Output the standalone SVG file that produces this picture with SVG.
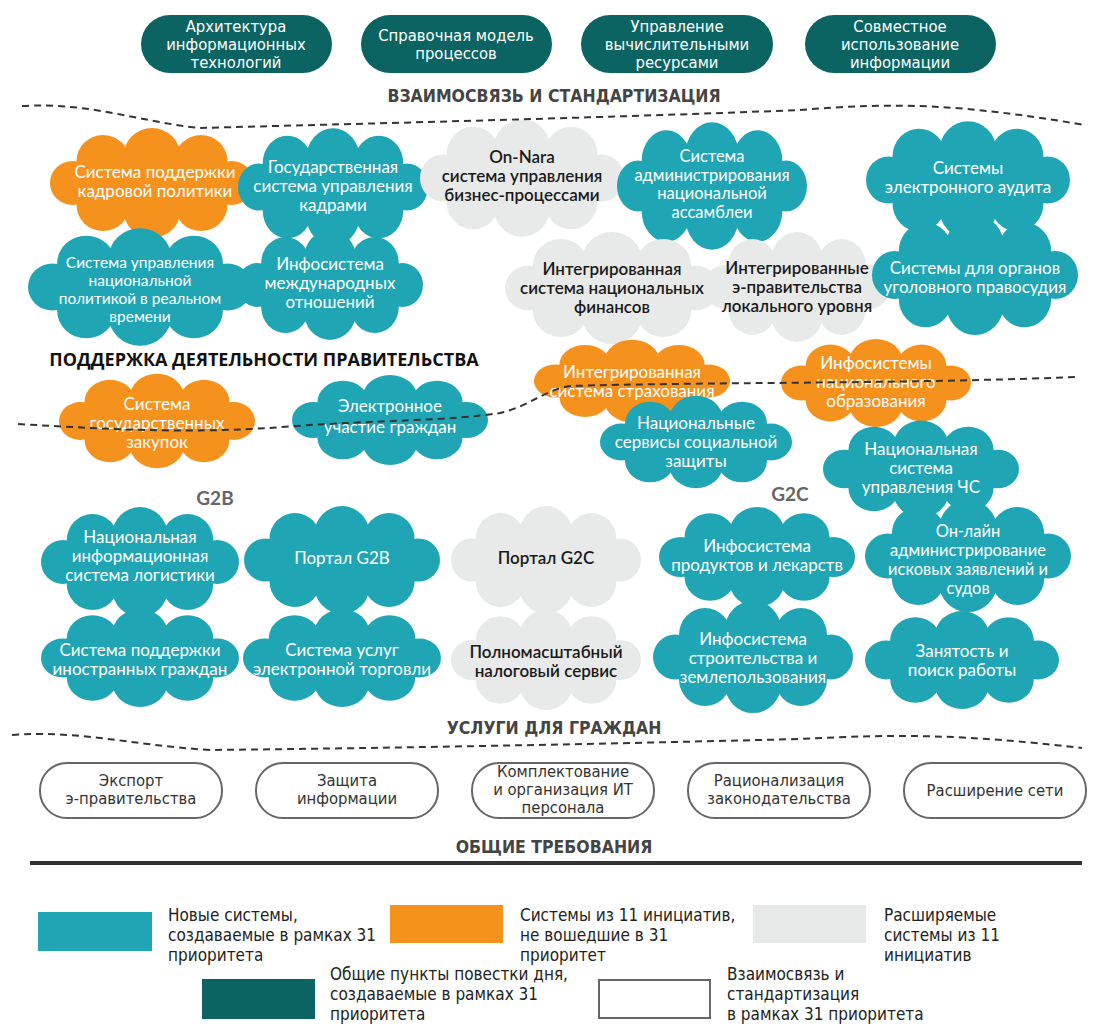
<svg xmlns="http://www.w3.org/2000/svg" xmlns:xlink="http://www.w3.org/1999/xlink" width="1109" height="1035" viewBox="0 0 1109 1035">
<style>
.bg{fill:#ffffff}
.teal{fill:#20a5b4}
.orange{fill:#f5921e}
.gray{fill:#e8e9e9}
.dark{fill:#0b6461}
.ct{font-family:Lato,"Open Sans","Noto Sans",sans-serif;font-size:17px;text-anchor:middle;fill:#ffffff}
.ct4{font-family:Lato,"Open Sans","Noto Sans",sans-serif;font-size:16.5px;text-anchor:middle;fill:#ffffff}
.ctp{font-family:Lato,"Open Sans","Noto Sans",sans-serif;font-size:15.5px;text-anchor:middle;fill:#ffffff}
.ctd{font-family:Lato,"Open Sans","Noto Sans",sans-serif;font-size:17px;text-anchor:middle;fill:#1a1a1a;font-weight:600}
.pt{font-family:"Liberation Sans Narrow","DejaVu Sans Condensed","Liberation Sans",sans-serif;font-size:16.5px;text-anchor:middle;fill:#ffffff}
.pw{font-family:"Liberation Sans Narrow","DejaVu Sans Condensed","Liberation Sans",sans-serif;font-size:16.5px;text-anchor:middle;fill:#333333}
.hd{font-family:"Liberation Sans Narrow","DejaVu Sans Condensed","Liberation Sans",sans-serif;font-size:17.5px;font-weight:bold;text-anchor:middle;fill:#444444}
.hb{font-family:"Open Sans","Noto Sans",sans-serif;font-size:18px;font-weight:bold;text-anchor:middle;fill:#111111}
.g2{font-family:Lato,"Open Sans",sans-serif;font-size:19px;font-weight:bold;text-anchor:middle;fill:#666666}
.lg{font-family:"Liberation Sans Narrow","DejaVu Sans Condensed","Liberation Sans",sans-serif;font-size:17px;fill:#222222}
.dash{fill:none;stroke:#333333;stroke-width:2;stroke-dasharray:7 5}
.wpill{fill:#ffffff;stroke:#666666;stroke-width:2}
</style>
<defs>
<g id="cloud">
<ellipse cx="0" cy="0" rx="82" ry="32"/>
<circle cx="0" cy="-27" r="28"/>
<circle cx="-48" cy="-22" r="26"/>
<circle cx="48" cy="-22" r="26"/>
<circle cx="0" cy="27" r="28"/>
<circle cx="-48" cy="22" r="26"/>
<circle cx="48" cy="22" r="26"/>
<circle cx="-78" cy="0" r="22"/>
<circle cx="78" cy="0" r="22"/>
</g>
</defs>
<rect class="bg" x="0" y="0" width="1109" height="1035"/>

<!-- Top pills -->
<g id="pill-arch"><rect class="dark" x="141" y="15" width="191" height="58" rx="29"/>
<text class="pt"><tspan x="236" y="32">Архитектура</tspan><tspan x="236" y="50">информационных</tspan><tspan x="236" y="68">технологий</tspan></text></g>
<g id="pill-ref"><rect class="dark" x="361" y="15" width="191" height="58" rx="29"/>
<text class="pt"><tspan x="456" y="41">Справочная модель</tspan><tspan x="456" y="59">процессов</tspan></text></g>
<g id="pill-comp"><rect class="dark" x="581" y="15" width="192" height="58" rx="29"/>
<text class="pt"><tspan x="677" y="32">Управление</tspan><tspan x="677" y="50">вычислительными</tspan><tspan x="677" y="68">ресурсами</tspan></text></g>
<g id="pill-share"><rect class="dark" x="805" y="15" width="191" height="58" rx="29"/>
<text class="pt"><tspan x="900" y="32">Совместное</tspan><tspan x="900" y="50">использование</tspan><tspan x="900" y="68">информации</tspan></text></g>

<text class="hd" x="554" y="102">ВЗАИМОСВЯЗЬ И СТАНДАРТИЗАЦИЯ</text>

<!-- Section 1 clouds -->
<g id="c-kadr-support"><use xlink:href="#cloud" class="orange" transform="translate(152,183) scale(1.02,1.0)"/>
<text class="ct"><tspan x="155" y="178">Система поддержки</tspan><tspan x="155" y="197">кадровой политики</tspan></text></g>
<g id="c-gos-kadr"><use xlink:href="#cloud" class="teal" transform="translate(333,187) scale(0.95,1.07)"/>
<text class="ct"><tspan x="333" y="173">Государственная</tspan><tspan x="333" y="192">система управления</tspan><tspan x="333" y="211">кадрами</tspan></text></g>
<g id="c-onnara"><use xlink:href="#cloud" class="gray" transform="translate(522,178) scale(1.02,1.07)"/>
<text class="ctd"><tspan x="522" y="163">On-Nara</tspan><tspan x="522" y="182">система управления</tspan><tspan x="522" y="201">бизнес-процессами</tspan></text></g>
<g id="c-assembly"><use xlink:href="#cloud" class="teal" transform="translate(712,186) scale(0.95,1.16)"/>
<text class="ct4"><tspan x="712" y="162">Система</tspan><tspan x="712" y="180.5">администрирования</tspan><tspan x="712" y="199">национальной</tspan><tspan x="712" y="217.5">ассамблеи</tspan></text></g>
<g id="c-audit"><use xlink:href="#cloud" class="teal" transform="translate(968,180) scale(1.02,1.07)"/>
<text class="ct"><tspan x="968" y="174">Системы</tspan><tspan x="968" y="193">электронного аудита</tspan></text></g>
<g id="c-policy"><use xlink:href="#cloud" class="teal" transform="translate(140,287) scale(1.12,1.07)"/>
<text class="ctp"><tspan x="140" y="268">Система управления</tspan><tspan x="140" y="286">национальной</tspan><tspan x="140" y="304">политикой в реальном</tspan><tspan x="140" y="322">времени</tspan></text></g>
<g id="c-intl"><use xlink:href="#cloud" class="teal" transform="translate(330,285) scale(0.93,1.0)"/>
<text class="ct"><tspan x="330" y="270">Инфосистема</tspan><tspan x="330" y="289">международных</tspan><tspan x="330" y="308">отношений</tspan></text></g>
<g id="c-finance"><use xlink:href="#cloud" class="gray" transform="translate(612,288) scale(1.07,1.02)"/>
<text class="ctd"><tspan x="612" y="275">Интегрированная</tspan><tspan x="612" y="294">система национальных</tspan><tspan x="612" y="313">финансов</tspan></text></g>
<g id="c-local"><use xlink:href="#cloud" class="gray" transform="translate(797,287) scale(0.93,1.0)"/>
<text class="ctd"><tspan x="797" y="274">Интегрированные</tspan><tspan x="797" y="293">э-правительства</tspan><tspan x="797" y="312">локального уровня</tspan></text></g>
<g id="c-justice"><use xlink:href="#cloud" class="teal" transform="translate(975,275) scale(1.03,1.09)"/>
<text class="ct"><tspan x="975" y="274">Системы для органов</tspan><tspan x="975" y="293">уголовного правосудия</tspan></text></g>

<text class="hb" x="264" y="366">ПОДДЕРЖКА ДЕЯТЕЛЬНОСТИ ПРАВИТЕЛЬСТВА</text>

<!-- Section 2 clouds -->
<g id="c-procure"><use xlink:href="#cloud" class="orange" transform="translate(157,421) scale(0.98,0.86)"/>
<text class="ct"><tspan x="157" y="410">Система</tspan><tspan x="157" y="429">государственных</tspan><tspan x="157" y="448">закупок</tspan></text></g>
<g id="c-eparticip"><use xlink:href="#cloud" class="teal" transform="translate(390,420) scale(0.98,0.82)"/>
<text class="ct"><tspan x="390" y="412">Электронное</tspan><tspan x="390" y="433">участие граждан</tspan></text></g>
<g id="c-insurance"><use xlink:href="#cloud" class="orange" transform="translate(632,381) scale(0.98,0.75)"/>
<text class="ct"><tspan x="632" y="378">Интегрированная</tspan><tspan x="632" y="397">система страхования</tspan></text></g>
<g id="c-education"><use xlink:href="#cloud" class="orange" transform="translate(876,383) scale(0.95,0.8)"/>
<text class="ct"><tspan x="876" y="369">Инфосистемы</tspan><tspan x="876" y="388">национального</tspan><tspan x="876" y="407">образования</tspan></text></g>
<g id="c-social"><use xlink:href="#cloud" class="teal" transform="translate(696,442) scale(0.96,0.84)"/>
<text class="ct"><tspan x="696" y="429">Национальные</tspan><tspan x="696" y="448">сервисы социальной</tspan><tspan x="696" y="467">защиты</tspan></text></g>
<g id="c-emergency"><use xlink:href="#cloud" class="teal" transform="translate(921,469) scale(0.98,0.88)"/>
<text class="ct"><tspan x="921" y="455">Национальная</tspan><tspan x="921" y="474">система</tspan><tspan x="921" y="493">управления ЧС</tspan></text></g>

<text class="g2" x="215" y="505">G2B</text>
<text class="g2" x="790" y="501">G2C</text>

<!-- Section 3 clouds -->
<g id="c-logistics"><use xlink:href="#cloud" class="teal" transform="translate(140,562) scale(0.99,1.0)"/>
<text class="ct"><tspan x="140" y="543">Национальная</tspan><tspan x="140" y="562">информационная</tspan><tspan x="140" y="581">система логистики</tspan></text></g>
<g id="c-g2b"><use xlink:href="#cloud" class="teal" transform="translate(342,560) scale(0.98,0.98)"/>
<text class="ct"><tspan x="342" y="564">Портал G2B</tspan></text></g>
<g id="c-g2c"><use xlink:href="#cloud" class="gray" transform="translate(546,560) scale(0.95,0.98)"/>
<text class="ctd"><tspan x="546" y="564">Портал G2C</tspan></text></g>
<g id="c-food"><use xlink:href="#cloud" class="teal" transform="translate(757,557) scale(0.98,0.91)"/>
<text class="ct"><tspan x="757" y="552">Инфосистема</tspan><tspan x="757" y="571">продуктов и лекарств</tspan></text></g>
<g id="c-courts"><use xlink:href="#cloud" class="teal" transform="translate(968,556) scale(1.03,1.02)"/>
<text class="ct4"><tspan x="968" y="537">Он-лайн</tspan><tspan x="968" y="556">администрирование</tspan><tspan x="968" y="575">исковых заявлений и</tspan><tspan x="968" y="594">судов</tspan></text></g>
<g id="c-foreign"><use xlink:href="#cloud" class="teal" transform="translate(140,658) scale(0.99,0.89)"/>
<text class="ct"><tspan x="140" y="656">Система поддержки</tspan><tspan x="140" y="675">иностранных граждан</tspan></text></g>
<g id="c-ecommerce"><use xlink:href="#cloud" class="teal" transform="translate(342,658) scale(0.99,0.89)"/>
<text class="ct"><tspan x="342" y="656">Система услуг</tspan><tspan x="342" y="675">электронной торговли</tspan></text></g>
<g id="c-tax"><use xlink:href="#cloud" class="gray" transform="translate(546,660) scale(0.95,0.91)"/>
<text class="ctd"><tspan x="546" y="658">Полномасштабный</tspan><tspan x="546" y="677">налоговый сервис</tspan></text></g>
<g id="c-construction"><use xlink:href="#cloud" class="teal" transform="translate(753,657) scale(1.0,1.02)"/>
<text class="ct"><tspan x="753" y="645">Инфосистема</tspan><tspan x="753" y="664">строительства и</tspan><tspan x="753" y="683">землепользования</tspan></text></g>
<g id="c-jobs"><use xlink:href="#cloud" class="teal" transform="translate(962,660) scale(0.97,0.89)"/>
<text class="ct"><tspan x="962" y="657">Занятость и</tspan><tspan x="962" y="676">поиск работы</tspan></text></g>

<text class="hd" x="554" y="734">УСЛУГИ ДЛЯ ГРАЖДАН</text>

<!-- Section dividers -->
<g id="connectors">
<path class="dash" d="M22,106 C90,102 140,122 200,128 C350,124 600,118 800,110 C900,102 960,104 1085,125"/>
<path class="dash" d="M18,424 C120,430 200,434 296,426 C380,420 450,421 500,413 C530,406 542,391 570,386 C700,382 900,384 1075,377"/>
<path class="dash" d="M12,735 C80,730 130,745 210,750 C400,748 600,744 800,739 C900,734 960,734 1082,748"/>
</g>

<!-- Bottom pills -->
<g id="pill-export"><rect class="wpill" x="40" y="763" width="182" height="55" rx="27"/>
<text class="pw"><tspan x="131" y="786">Экспорт</tspan><tspan x="131" y="804">э-правительства</tspan></text></g>
<g id="pill-security"><rect class="wpill" x="256" y="763" width="182" height="55" rx="27"/>
<text class="pw"><tspan x="347" y="786">Защита</tspan><tspan x="347" y="804">информации</tspan></text></g>
<g id="pill-staff"><rect class="wpill" x="472" y="763" width="182" height="55" rx="27"/>
<text class="pw"><tspan x="563" y="777">Комплектование</tspan><tspan x="563" y="795">и организация ИТ</tspan><tspan x="563" y="813">персонала</tspan></text></g>
<g id="pill-law"><rect class="wpill" x="688" y="763" width="182" height="55" rx="27"/>
<text class="pw"><tspan x="779" y="786">Рационализация</tspan><tspan x="779" y="804">законодательства</tspan></text></g>
<g id="pill-network"><rect class="wpill" x="904" y="763" width="182" height="55" rx="27"/>
<text class="pw"><tspan x="995" y="796">Расширение сети</tspan></text></g>

<text class="hd" x="554" y="853">ОБЩИЕ ТРЕБОВАНИЯ</text>
<line x1="30" y1="863" x2="1082" y2="863" stroke="#333333" stroke-width="4"/>

<!-- Legend -->
<g id="legend-new"><rect class="teal" x="38" y="912" width="114" height="39"/>
<text class="lg"><tspan x="168" y="921">Новые системы,</tspan><tspan x="168" y="941">создаваемые в рамках 31</tspan><tspan x="168" y="961">приоритета</tspan></text></g>
<g id="legend-11"><rect class="orange" x="390" y="905" width="113" height="38"/>
<text class="lg"><tspan x="520" y="921">Системы из 11 инициатив,</tspan><tspan x="520" y="941">не вошедшие в 31</tspan><tspan x="520" y="961">приоритет</tspan></text></g>
<g id="legend-ext"><rect class="gray" x="753" y="905" width="113" height="38"/>
<text class="lg"><tspan x="884" y="921">Расширяемые</tspan><tspan x="884" y="941">системы из 11</tspan><tspan x="884" y="961">инициатив</tspan></text></g>
<g id="legend-common"><rect class="dark" x="202" y="979" width="113" height="40"/>
<text class="lg"><tspan x="330" y="980">Общие пункты повестки дня,</tspan><tspan x="330" y="1000">создаваемые в рамках 31</tspan><tspan x="330" y="1020">приоритета</tspan></text></g>
<g id="legend-std"><rect x="599" y="980" width="111" height="38" fill="#ffffff" stroke="#666666" stroke-width="2"/>
<text class="lg"><tspan x="727" y="980">Взаимосвязь и</tspan><tspan x="727" y="1000">стандартизация</tspan><tspan x="727" y="1020">в рамках 31 приоритета</tspan></text></g>
</svg>
